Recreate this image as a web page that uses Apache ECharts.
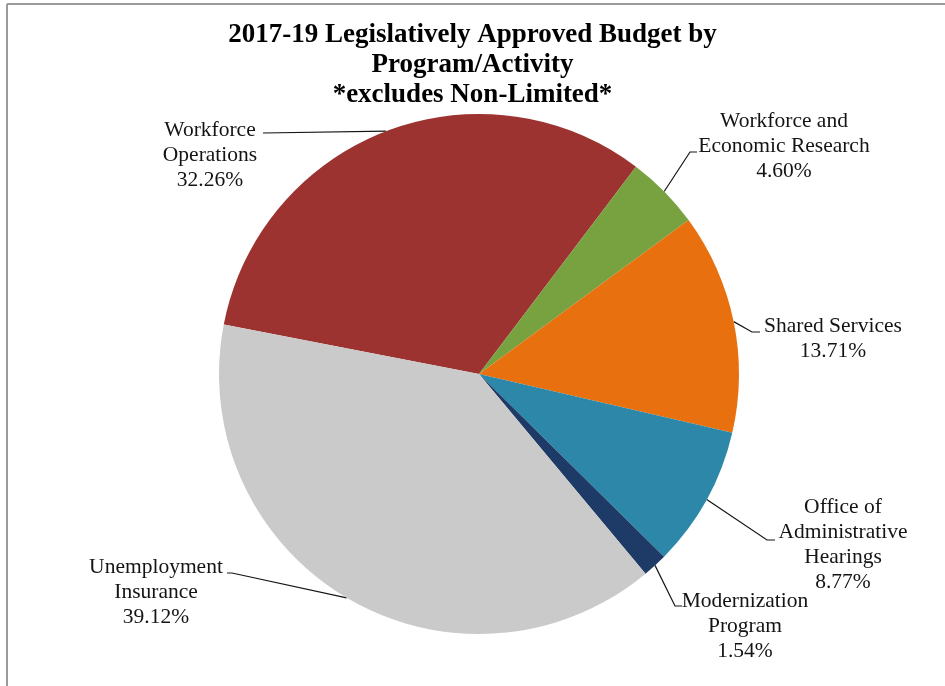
<!DOCTYPE html>
<html>
<head>
<meta charset="utf-8">
<script src="https://cdn.jsdelivr.net/npm/echarts@6/dist/echarts.min.js"></script>
<style>
  html, body { margin: 0; padding: 0; background: #fff; }
  #chart { width: 945px; height: 686px; }
</style>
</head>
<body>
<div id="chart"></div>
<script>
// Budget shares by program/activity (percent of total), clockwise from the left
const categories = [
  'Workforce\nOperations',
  'Workforce and\nEconomic Research',
  'Shared Services',
  'Office of\nAdministrative\nHearings',
  'Modernization\nProgram',
  'Unemployment\nInsurance'
];
const shares = [32.26, 4.60, 13.71, 8.77, 1.54, 39.12];
const sliceColors = ['#9C3330', '#77A23F', '#E8700F', '#2C87A8', '#1E3A66', '#CACACA'];

// Label placement: text block centre, then the bend and end of each leader line
const labelPlacement = [
  { center: [210, 155], bend: [263, 133], end: [263, 133] },
  { center: [784, 146], bend: [690, 152], end: [697, 152] },
  { center: [833, 339], bend: [752, 332], end: [760, 332] },
  { center: [843, 545], bend: [767, 540], end: [775, 540] },
  { center: [745, 626], bend: [675, 606], end: [682, 606] },
  { center: [156, 592], bend: [232, 573], end: [227, 573] }
];

const serif = "'Liberation Serif', 'Times New Roman', serif";

const chart = echarts.init(document.getElementById('chart'), null, { renderer: 'canvas' });

chart.setOption({
  backgroundColor: '#ffffff',
  animation: false,
  title: {
    text: '2017-19 Legislatively Approved Budget by\nProgram/Activity\n*excludes Non-Limited*',
    left: 'center',
    top: 15,
    textStyle: {
      fontFamily: serif,
      fontWeight: 'bold',
      fontSize: 27,
      lineHeight: 30,
      color: '#000'
    }
  },
  graphic: [
    { type: 'line', shape: { x1: 7, y1: 4, x2: 945, y2: 4 }, style: { stroke: '#9a9a9a', lineWidth: 2 } },
    { type: 'line', shape: { x1: 7, y1: 4, x2: 7, y2: 686 }, style: { stroke: '#9a9a9a', lineWidth: 2 } }
  ],
  series: [{
    type: 'pie',
    center: [479, 374],
    radius: 260,
    startAngle: 169,
    clockwise: true,
    avoidLabelOverlap: false,
    data: categories.map((name, i) => ({
      name: name,
      value: shares[i],
      itemStyle: { color: sliceColors[i] }
    })),
    itemStyle: { borderWidth: 0 },
    label: {
      show: true,
      position: 'outside',
      formatter: p => p.name + '\n' + shares[p.dataIndex].toFixed(2) + '%',
      fontFamily: serif,
      fontSize: 21.5,
      lineHeight: 25,
      color: '#141414',
      align: 'center'
    },
    labelLine: {
      show: true,
      length: 20,
      length2: 10,
      lineStyle: { color: '#141414', width: 1.2 }
    },
    labelLayout: function (params) {
      const place = labelPlacement[params.dataIndex];
      const anchor = params.labelLinePoints ? params.labelLinePoints[0] : place.bend;
      return {
        x: place.center[0],
        y: place.center[1],
        align: 'center',
        verticalAlign: 'middle',
        labelLinePoints: [anchor, place.bend, place.end]
      };
    },
    emphasis: { disabled: true }
  }]
});
</script>
</body>
</html>
